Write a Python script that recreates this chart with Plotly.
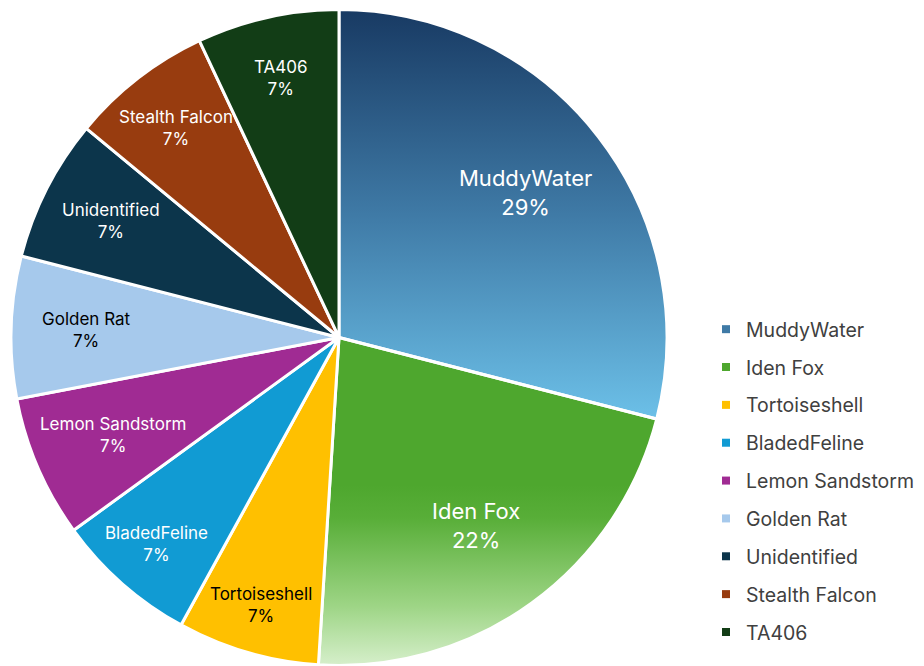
import numpy as np
import plotly.graph_objects as go

# Share of activity by threat actor
actors = ["MuddyWater", "Iden Fox", "Tortoiseshell", "BladedFeline", "Lemon Sandstorm",
          "Golden Rat", "Unidentified", "Stealth Falcon", "TA406"]
shares = [29, 22, 7, 7, 7, 7, 7, 7, 7]
colors = ["#3f7aa6", "#4ea72e", "#ffc000", "#119bd3", "#a02b93",
          "#a6c9ec", "#0c354b", "#983c0f", "#123d16"]
label_colors = ["white", "white", "black", "white", "white", "black", "white", "white", "white"]

# Vertical gradient fills (0 = bottom of the slice, 1 = top)
gradients = {
    "MuddyWater": [[0, "#6cc0e8"], [0.5, "#3f7aa6"], [1, "#183a63"]],
    "Iden Fox": [[0, "#d6efcb"], [0.18, "#9ed586"], [0.45, "#58ae38"], [0.55, "#4ea72e"], [1, "#4ea72e"]],
}

# Radial placement of each slice label (fraction of the radius)
label_radius = {
    "MuddyWater": 0.72, "Iden Fox": 0.71, "Tortoiseshell": 0.85, "BladedFeline": 0.84,
    "Lemon Sandstorm": 0.75, "Golden Rat": 0.77, "Unidentified": 0.78,
    "Stealth Falcon": 0.81, "TA406": 0.81,
}

FONT = "Inter, Roboto, Arial, sans-serif"
W, H = 924, 666
CX, CY, R = 339, 337.5, 328

dom_x = [(CX - R) / W, (CX + R) / W]
dom_y = [1 - (CY + R) / H, 1 - (CY - R) / H]

fig = go.Figure()

total = float(sum(shares))
start = 0.0
for name, val in zip(actors, shares):
    frac = val / total
    if name in gradients:
        th = np.linspace(start, start + frac, 200) * 2 * np.pi
        xs = np.concatenate([[0], np.sin(th), [0]])
        ys = np.concatenate([[0], np.cos(th), [0]])
        fig.add_trace(go.Scatter(
            x=xs, y=ys, mode="none", fill="toself",
            fillgradient=dict(type="vertical", colorscale=gradients[name]),
            hoverinfo="skip", showlegend=False,
        ))
    start += frac

slice_colors = ["rgba(0,0,0,0)" if a in gradients else c for a, c in zip(actors, colors)]
fig.add_trace(go.Pie(
    labels=actors, values=shares, sort=False, direction="clockwise", rotation=0,
    marker=dict(colors=slice_colors, line=dict(color="white", width=3)),
    textinfo="none", showlegend=False,
    domain=dict(x=dom_x, y=dom_y),
))

# Legend entries
for i, (name, c) in enumerate(zip(actors, colors)):
    fig.add_trace(go.Scatter(
        x=[None], y=[None], mode="markers", name=name, legendgroup=f"g{i}",
        marker=dict(symbol="square", size=8, color=c),
    ))

# Slice labels
start = 0.0
for name, val, fc in zip(actors, shares, label_colors):
    frac = val / total
    mid = (start + frac / 2) * 2 * np.pi
    rr = label_radius[name]
    size = 22 if frac >= 0.2 else 17
    fig.add_annotation(
        x=rr * np.sin(mid), y=rr * np.cos(mid), xref="x", yref="y",
        text=f"{name}<br>{round(frac * 100)}%", showarrow=False,
        font=dict(family=FONT, size=size, color=fc),
    )
    start += frac

fig.update_xaxes(domain=dom_x, range=[-1, 1], visible=False, fixedrange=True)
fig.update_yaxes(domain=dom_y, range=[-1, 1], visible=False, fixedrange=True)

fig.update_layout(
    width=W, height=H,
    margin=dict(l=0, r=0, t=0, b=0, autoexpand=False),
    paper_bgcolor="white", plot_bgcolor="white",
    font=dict(family=FONT),
    legend=dict(
        x=706 / W, xanchor="left", y=1 - 481 / H, yanchor="middle",
        font=dict(family=FONT, size=19.5, color="#404040"),
        tracegroupgap=9.5, traceorder="grouped",
        bgcolor="rgba(0,0,0,0)",
    ),
)

fig.write_html("out.html")
